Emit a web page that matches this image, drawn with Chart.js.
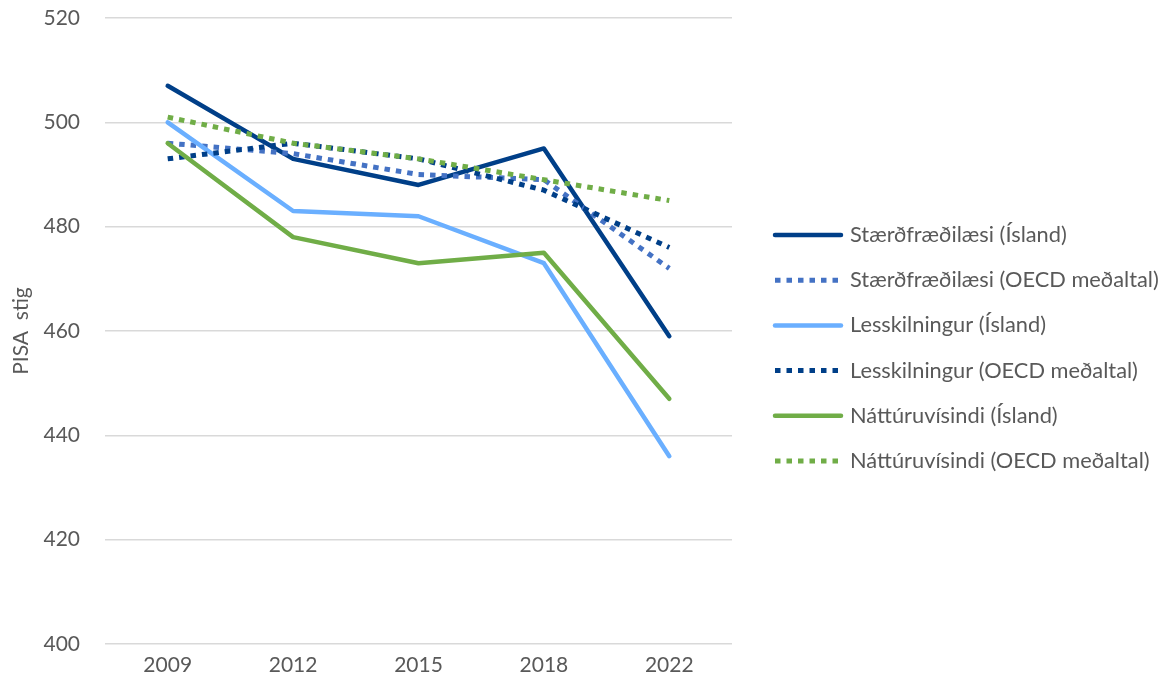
<!DOCTYPE html>
<html>
<head>
<meta charset="utf-8">
<script src="https://cdn.jsdelivr.net/npm/chart.js@4.4.1/dist/chart.umd.min.js"></script>
<style>
  body { margin: 0; background: #fff; }
</style>
</head>
<body>
<canvas id="pisa" width="1170" height="689"></canvas>
<script>
// gögn lesin af myndinni
const years = ["2009", "2012", "2015", "2018", "2022"];
const yTicks = [400, 420, 440, 460, 480, 500, 520];

const staerdIsland = [507, 493, 488, 495, 459];
const staerdOecd   = [496, 494, 490, 489, 472];
const lesIsland    = [500, 483, 482, 473, 436];
const lesOecd      = [493, 496, 493, 487, 476];
const nattIsland   = [496, 478, 473, 475, 447];
const nattOecd     = [501, 496, 493, 489, 485];

const textColor = "#595959";
const fontFamily = "Lato";

function solid(label, data, color, order) {
  return {
    label: label, data: data, borderColor: color, backgroundColor: color,
    borderWidth: 4.5, borderCapStyle: "round", borderJoinStyle: "round",
    pointRadius: 0, tension: 0, order: order
  };
}
function dotted(label, data, color, order) {
  return {
    label: label, data: data, borderColor: color, backgroundColor: color,
    borderWidth: 5, borderDash: [5.5, 6], borderCapStyle: "butt", borderJoinStyle: "miter",
    pointRadius: 0, tension: 0, order: order
  };
}

// skýringar til hægri
const sideLegend = {
  id: "sideLegend",
  afterDraw(chart) {
    const ctx = chart.ctx;
    ctx.save();
    chart.data.datasets.forEach(function (ds, i) {
      const y = 235 + i * 45.2;
      ctx.beginPath();
      ctx.strokeStyle = ds.borderColor;
      ctx.lineWidth = ds.borderWidth;
      ctx.lineCap = ds.borderCapStyle;
      ctx.setLineDash(ds.borderDash || []);
      ctx.moveTo(775, y);
      ctx.lineTo(841, y);
      ctx.stroke();
      ctx.setLineDash([]);
      ctx.fillStyle = textColor;
      ctx.font = "21.8px " + fontFamily;
      ctx.textBaseline = "middle";
      ctx.fillText(ds.label, 850, y);
    });
    ctx.restore();
  }
};

new Chart(document.getElementById("pisa"), {
  type: "line",
  data: {
    labels: years,
    datasets: [
      solid("Stærðfræðilæsi (Ísland)", staerdIsland, "#003f88", 6),
      dotted("Stærðfræðilæsi (OECD meðaltal)", staerdOecd, "#4472c4", 5),
      solid("Lesskilningur (Ísland)", lesIsland, "#6aafff", 4),
      dotted("Lesskilningur (OECD meðaltal)", lesOecd, "#003f88", 3),
      solid("Náttúruvísindi (Ísland)", nattIsland, "#70ad47", 2),
      dotted("Náttúruvísindi (OECD meðaltal)", nattOecd, "#70ad47", 1)
    ]
  },
  options: {
    responsive: false,
    animation: false,
    layout: { padding: { top: 18, right: 438, bottom: 0, left: 0 } },
    plugins: {
      legend: { display: false },
      tooltip: { enabled: false }
    },
    scales: {
      x: {
        offset: true,
        grid: { display: false, drawTicks: false },
        border: { display: false },
        ticks: { color: textColor, font: { family: fontFamily, size: 21 }, padding: 9 },
        afterFit: function (scale) { scale.height = 45; scale.paddingTop = 0; }
      },
      y: {
        min: 400,
        max: 520,
        afterBuildTicks: function (scale) {
          scale.ticks = yTicks.map(function (v) { return { value: v }; });
        },
        grid: { color: "#d9d9d9", lineWidth: 1.5, drawTicks: false },
        border: { display: false },
        ticks: { color: textColor, font: { family: fontFamily, size: 21 }, padding: 25 },
        title: {
          display: true,
          text: "PISA  stig",
          color: textColor,
          font: { family: fontFamily, size: 21 },
          padding: { top: 9, bottom: 0 }
        },
        afterFit: function (scale) {
          scale.width = 105;
          scale.paddingTop = 0;
          scale.paddingBottom = 0;
        }
      }
    }
  },
  plugins: [sideLegend]
});
</script>
</body>
</html>
